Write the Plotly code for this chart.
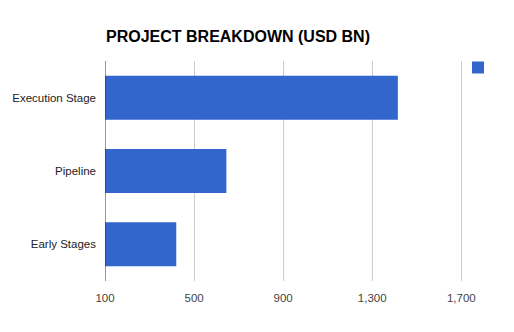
import plotly.graph_objects as go

categories = ["Early Stages", "Pipeline", "Execution Stage"]
values = [420, 645, 1415]
x_ticks = [100, 500, 900, 1300, 1700]
x_tick_labels = ["100", "500", "900", "1,300", "1,700"]

fig = go.Figure()
fig.add_trace(go.Bar(
    y=categories, x=[v - 100 for v in values], base=100, orientation="h",
    marker=dict(color="#3366CC", line=dict(width=0)),
    name=" ", showlegend=True,
))

fig.update_layout(
    width=514, height=332,
    margin=dict(l=105, r=46, t=61, b=51, autoexpand=False),
    paper_bgcolor="white", plot_bgcolor="white",
    font=dict(family="Liberation Sans, Arial, sans-serif", color="#222222", size=11.5),
    title=dict(text="<b>PROJECT BREAKDOWN (USD BN)</b>", x=106/514, xanchor="left",
               y=1 - 36/332, yanchor="middle",
               font=dict(size=16, color="#000000")),
    bargap=0.4,
    showlegend=True,
    legend=dict(x=458/514, xref="container", y=1 - 53/332, yref="container",
                xanchor="left", yanchor="top",
                font=dict(size=1), itemwidth=30, bgcolor="rgba(0,0,0,0)"),
    xaxis=dict(range=[100, 1730], tickvals=x_ticks, ticktext=x_tick_labels,
               showgrid=True, gridcolor="#CCCCCC", gridwidth=1, zeroline=False,
               showline=False, ticks="outside", ticklen=6, tickcolor="rgba(0,0,0,0)",
               tickfont=dict(size=11.5, color="#444444")),
    yaxis=dict(showgrid=False, zeroline=False, showline=False, ticks="",
               ticklabelstandoff=8, tickfont=dict(size=11.5, color="#222222")),
    shapes=[dict(type="line", xref="x", yref="paper", x0=100, x1=100, y0=0, y1=1,
                 line=dict(color="#333333", width=1))],
)

fig.write_html("out.html")
